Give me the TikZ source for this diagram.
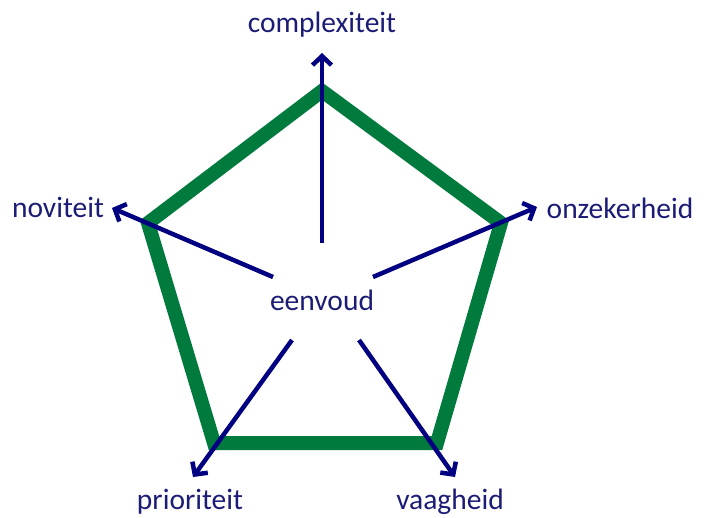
\documentclass[tikz,border=0pt]{standalone}
\usepackage{fontspec}
\setmainfont{Carlito}
\usetikzlibrary{arrows.meta}
\definecolor{pgreen}{RGB}{0,122,61}
\definecolor{anavy}{RGB}{0,0,128}
\definecolor{tnavy}{RGB}{28,28,118}
\begin{document}
\begin{tikzpicture}[x=1pt,y=-1pt,
  lbl/.style={text=tnavy,font=\fontsize{29.5}{32}\selectfont,inner sep=0pt},
  edge/.style={draw=pgreen,line width=14pt,line join=miter},
  arr/.style={draw=anavy,line width=4.5pt,-{Straight Barb[length=9pt,width=19pt,line width=4.5pt]}}]
\useasboundingbox (0,0) rectangle (704,517);
% pentagon vertices
\coordinate (vt) at (322,91);
\coordinate (vr) at (501,223);
\coordinate (vbr) at (437,443);
\coordinate (vbl) at (214,443);
\coordinate (vl) at (148,223);
\draw[edge] (vt) -- (vr) -- (vbr) -- (vbl) -- (vl) -- cycle;
% labels
\node[lbl] (ce) at (322,300) {eenvoud};
\node[lbl] (lt) at (322,25) {complexiteit};
\node[lbl] (ll) at (58,207) {noviteit};
\node[lbl] (lr) at (620,208) {onzekerheid};
\node[lbl] (lbl1) at (190,502) {prioriteit};
\node[lbl] (lbr) at (450,502) {vaagheid};
% arrow starts and tips
\coordinate (st) at (322,243);
\coordinate (et) at (322,53);
\coordinate (sl) at (273,277);
\coordinate (el) at (112,208);
\coordinate (sr) at (373,277);
\coordinate (er) at (537,207);
\coordinate (sbl) at (292,340);
\coordinate (ebl) at (193,477);
\coordinate (sbr) at (359,340);
\coordinate (ebr) at (455,477);
\draw[arr] (st) -- (et);
\draw[arr] (sl) -- (el);
\draw[arr] (sr) -- (er);
\draw[arr] (sbl) -- (ebl);
\draw[arr] (sbr) -- (ebr);
\end{tikzpicture}
\end{document}
